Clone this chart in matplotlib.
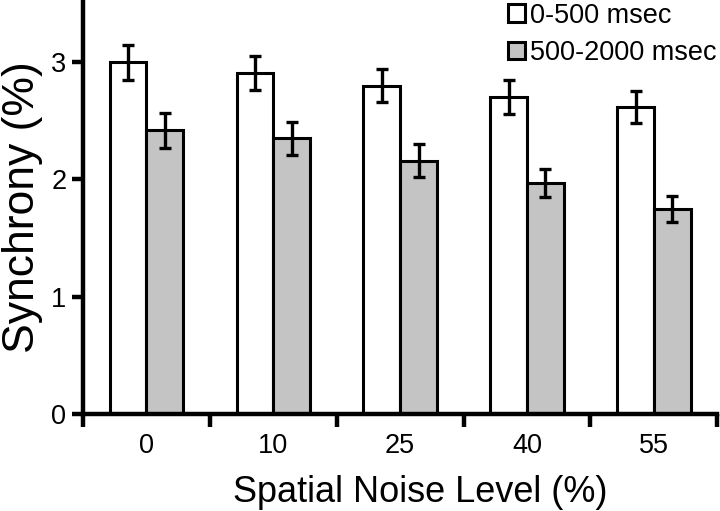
import matplotlib
matplotlib.use("Agg")
import matplotlib.pyplot as plt
import numpy as np

# ── Data ─────────────────────────────────────────────────────────────────────
noise_levels = ["0", "10", "25", "40", "55"]
early_mean = [3.00, 2.91, 2.80, 2.70, 2.62]     # 0-500 msec
early_err = [0.15, 0.145, 0.14, 0.145, 0.135]
late_mean = [2.42, 2.35, 2.16, 1.97, 1.75]      # 500-2000 msec
late_err = [0.15, 0.14, 0.14, 0.12, 0.11]
series_labels = ["0-500 msec", "500-2000 msec"]

plt.rcParams["font.family"] = ["Liberation Sans", "DejaVu Sans"]

fig = plt.figure(figsize=(7.2, 5.11), dpi=100)
ax = fig.add_axes([0.1153, 0.19, 0.881, 0.81])

x = np.arange(len(noise_levels))
w = 0.29
bar_kw = dict(edgecolor="black", linewidth=2.2, zorder=2)
err_kw = dict(ecolor="black", elinewidth=2.4, capsize=4.5, capthick=2.4)

b1 = ax.bar(x - w / 2, early_mean, w, color="white", yerr=early_err,
            error_kw=err_kw, label=series_labels[0], **bar_kw)
b2 = ax.bar(x + w / 2, late_mean, w, color="#c4c4c4", yerr=late_err,
            error_kw=err_kw, label=series_labels[1], **bar_kw)

ax.set_xlim(-0.5, len(noise_levels) - 0.5)
ax.set_ylim(0, 3.53)
ax.set_yticks([0, 1, 2, 3])
ax.set_yticklabels(["0", "1", "2", "3"])

# group labels centred, tick marks at the group boundaries
ax.set_xticks(np.arange(len(noise_levels) + 1) - 0.5)
ax.set_xticklabels([])
ax.set_xticks(x, minor=True)
ax.set_xticklabels(noise_levels, minor=True)
ax.tick_params(axis="x", which="major", direction="out", length=9, width=3.2)
ax.tick_params(axis="x", which="minor", length=0, labelsize=19.5, pad=14)
ax.tick_params(axis="y", direction="out", length=8, width=3.2, labelsize=19.5, pad=4)

for side in ["top", "right"]:
    ax.spines[side].set_visible(False)
for side in ["left", "bottom"]:
    ax.spines[side].set_linewidth(3.2)

ax.set_xlabel("Spatial Noise Level (%)", fontsize=26)
ax.xaxis.set_label_coords(0.532, -0.147)
ax.set_ylabel("Synchrony (%)", fontsize=32)
ax.yaxis.set_label_coords(-0.063, 0.50)

ax.legend(handles=[b1, b2], loc="upper left", bbox_to_anchor=(0.706, 0.995),
          bbox_transform=fig.transFigure, frameon=False, fontsize=19.5,
          handlelength=0.6, handleheight=0.6, handletextpad=0.2,
          labelspacing=0.42, borderaxespad=0, borderpad=0)

fig.savefig("out.png", dpi=100)
